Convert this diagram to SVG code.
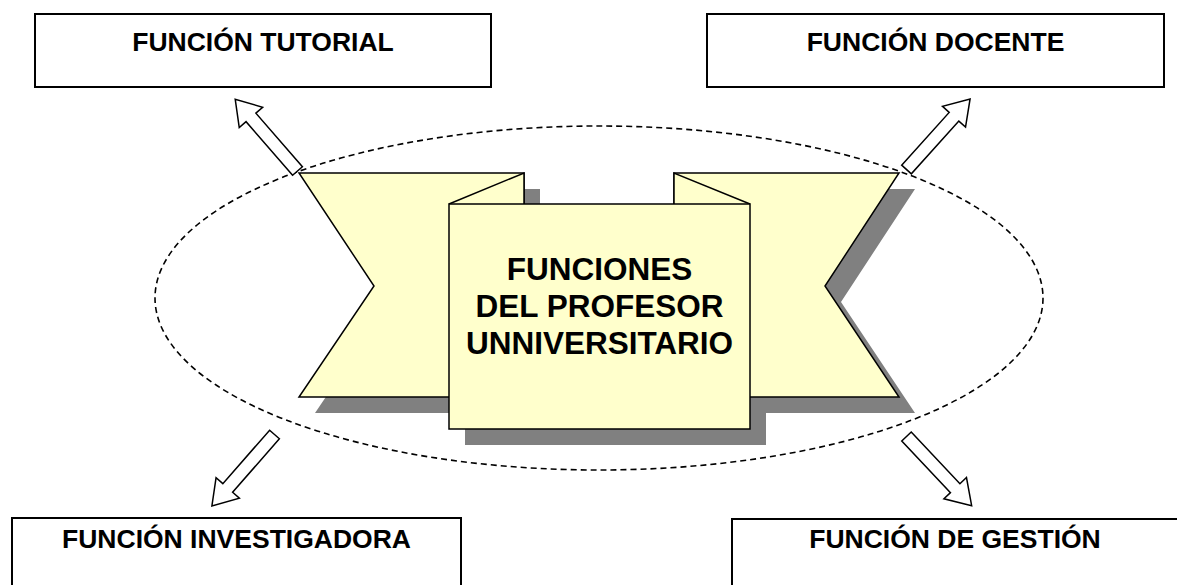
<svg xmlns="http://www.w3.org/2000/svg" xmlns:xlink="http://www.w3.org/1999/xlink" width="1177" height="585" viewBox="0 0 1177 585">
<style>
.box{fill:#fff;stroke:#000;stroke-width:2}
.lbl{font-family:"Liberation Sans",Arial,sans-serif;font-weight:bold;font-size:26.5px;fill:#000;text-anchor:middle}
.ctr{font-family:"Liberation Sans",Arial,sans-serif;font-weight:bold;font-size:31.5px;fill:#000;text-anchor:middle}
.rib{fill:#FFFFCC;stroke:#000;stroke-width:1.5;stroke-linejoin:miter}
.shd{fill:#808080;stroke:none}
.arr{fill:#fff;stroke:#000;stroke-width:1.5;stroke-linejoin:miter}
.ell{fill:none;stroke:#000;stroke-width:1.6;stroke-dasharray:6 4}
</style>
<defs>
<path id="blk" d="M0,-6.5 L71,-6.5 L71,-15.5 L95,0 L71,15.5 L71,6.5 L0,6.5 Z"/>
</defs>
<rect width="1177" height="585" fill="#fff"/>
<ellipse class="ell" cx="599" cy="298" rx="444" ry="172"/>
<g id="connectors">
<use xlink:href="#blk" class="arr" transform="translate(297.5,171) rotate(-130.96)"/>
<use xlink:href="#blk" class="arr" transform="translate(906.5,169.5) rotate(-47.99)"/>
<use xlink:href="#blk" class="arr" transform="translate(274.5,434.5) rotate(131.21)"/>
<use xlink:href="#blk" class="arr" transform="translate(906.5,436.5) rotate(46.7)"/>
</g>
<g id="center">
<g transform="translate(16,16)">
<polygon class="shd" points="299,173 524,173 524,397 299,397 374,286"/>
<polygon class="shd" points="674,173 899,173 825,286 899,397 674,397"/>
<rect class="shd" x="449" y="204" width="301" height="225"/>
</g>
<polygon class="rib" points="299,173 524,173 524,397 299,397 374,286"/>
<polyline class="rib" fill="none" points="449,204 524,173 524,204"/>
<polygon class="rib" points="674,173 899,173 825,286 899,397 674,397"/>
<polyline class="rib" fill="none" points="750,204 674,173 674,204"/>
<rect class="rib" x="449" y="204" width="301" height="225"/>
<text class="ctr" x="599.5" y="280">FUNCIONES</text>
<text class="ctr" x="599.5" y="317">DEL PROFESOR</text>
<text class="ctr" x="599.5" y="354">UNNIVERSITARIO</text>
</g>
<g id="tutorial">
<rect class="box" x="35" y="14" width="456" height="73"/>
<text class="lbl" x="263" y="51">FUNCIÓN TUTORIAL</text>
</g>
<g id="docente">
<rect class="box" x="707" y="14" width="457" height="73"/>
<text class="lbl" x="935.5" y="51">FUNCIÓN DOCENTE</text>
</g>
<g id="investigadora">
<rect class="box" x="12" y="518" width="449" height="80"/>
<text class="lbl" x="236.5" y="548">FUNCIÓN INVESTIGADORA</text>
</g>
<g id="gestion">
<rect class="box" x="732" y="519" width="450" height="80"/>
<text class="lbl" x="955" y="548">FUNCIÓN DE GESTIÓN</text>
</g>
</svg>
